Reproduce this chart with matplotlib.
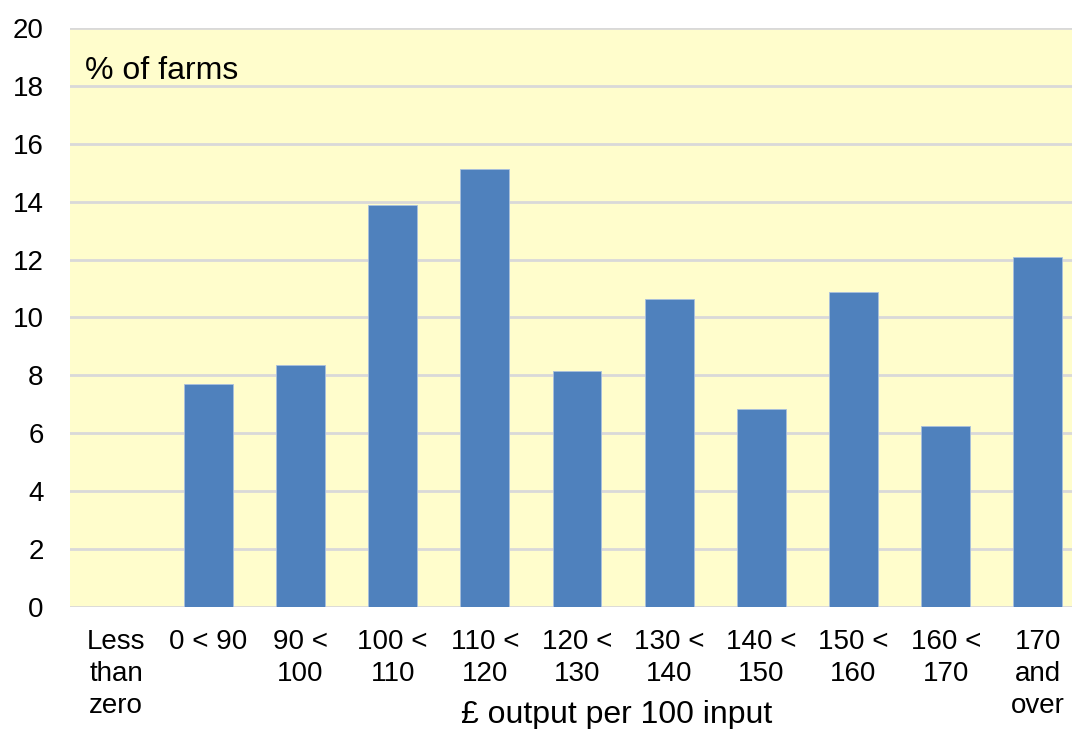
import matplotlib
matplotlib.use("Agg")
import matplotlib.pyplot as plt

categories = ["Less\nthan\nzero", "0 < 90", "90 <\n100", "100 <\n110", "110 <\n120",
              "120 <\n130", "130 <\n140", "140 <\n150", "150 <\n160", "160 <\n170",
              "170\nand\nover"]
values = [0, 7.72, 8.36, 13.9, 15.12, 8.15, 10.64, 6.84, 10.88, 6.25, 12.08]

plt.rcParams['font.family'] = ['Liberation Sans', 'DejaVu Sans']
FS_TITLE = 23
FS_TICK = 20

fig = plt.figure(figsize=(10.72, 7.29), dpi=100)
ax_left, ax_right = 70, 1084
ax = fig.add_axes([ax_left/1072, 1 - 607/729, (ax_right - ax_left)/1072, (607 - 28)/729])
ax.set_facecolor('#FFFDCC')

x = list(range(len(categories)))
ax.bar(x, values, width=0.53, color='#4F81BD', edgecolor='#A9C0DE', linewidth=0.6, zorder=3)

ax.set_xlim(-0.5, len(categories) - 0.5)
ax.set_ylim(0, 20)
ax.set_yticks(range(0, 21, 2))
ax.yaxis.grid(True, color='#D9D9D9', linewidth=2, zorder=0)
ax.set_axisbelow(True)
for s in ax.spines.values():
    s.set_visible(False)
ax.tick_params(axis='both', length=0, labelsize=FS_TICK, colors='black')
ax.tick_params(axis='y', pad=19)
ax.tick_params(axis='x', pad=16)
ax.set_xticks(x)
ax.set_xticklabels(categories, linespacing=1.3, va='top')

ax.text(15/(ax_right - ax_left), 1 - (71 - 28)/(607 - 28), "% of farms",
        transform=ax.transAxes, fontsize=FS_TITLE, ha='left', va='center')
fig.text(617/1072, 1 - 715/729, "£ output per 100 input", fontsize=FS_TITLE,
         ha='center', va='center')

fig.savefig("out.png", dpi=100)
